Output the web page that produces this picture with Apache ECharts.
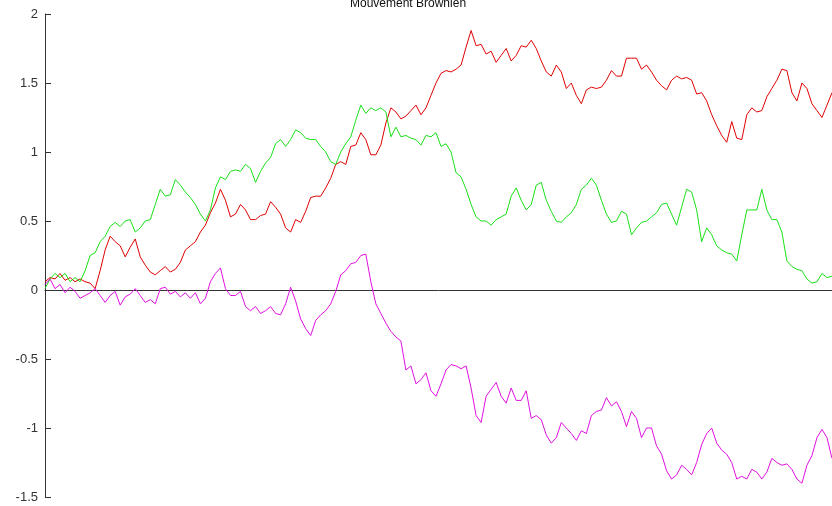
<!DOCTYPE html>
<html>
<head>
<meta charset="utf-8">
<script src="https://cdn.jsdelivr.net/npm/echarts@6/dist/echarts.min.js"></script>
<style>
  html, body { margin: 0; padding: 0; background: #fff; }
  #chart { width: 832px; height: 506px; }
</style>
</head>
<body>
<div id="chart"></div>
<script>
// Three simulated Brownian paths, sampled on a common time grid.
const pathRed = [
  0.06, 0.09, 0.08, 0.12, 0.07, 0.09, 0.06, 0.08, 0.06, 0.05,
  0.01, 0.14, 0.29, 0.39, 0.35, 0.32, 0.24, 0.31, 0.37, 0.24,
  0.18, 0.13, 0.11, 0.14, 0.17, 0.13, 0.15, 0.20, 0.29, 0.32,
  0.35, 0.42, 0.47, 0.56, 0.63, 0.73, 0.65, 0.53, 0.55, 0.62,
  0.58, 0.51, 0.51, 0.54, 0.55, 0.64, 0.60, 0.55, 0.45, 0.42,
  0.51, 0.49, 0.57, 0.67, 0.68, 0.68, 0.74, 0.81, 0.91, 0.93,
  0.91, 1.04, 1.05, 1.14, 1.09, 0.98, 0.98, 1.05, 1.21, 1.32,
  1.29, 1.24, 1.26, 1.30, 1.34, 1.27, 1.32, 1.41, 1.50, 1.57,
  1.59, 1.58, 1.60, 1.63, 1.76, 1.88, 1.77, 1.78, 1.71, 1.73,
  1.65, 1.70, 1.75, 1.66, 1.70, 1.77, 1.76, 1.81, 1.75, 1.66,
  1.58, 1.55, 1.63, 1.58, 1.46, 1.50, 1.41, 1.35, 1.45, 1.47,
  1.46, 1.47, 1.52, 1.59, 1.55, 1.55, 1.68, 1.68, 1.68, 1.60,
  1.63, 1.58, 1.52, 1.48, 1.45, 1.52, 1.55, 1.53, 1.54, 1.52,
  1.42, 1.43, 1.37, 1.27, 1.19, 1.12, 1.07, 1.22, 1.10, 1.09,
  1.27, 1.32, 1.29, 1.30, 1.40, 1.46, 1.52, 1.60, 1.59, 1.43,
  1.37, 1.50, 1.46, 1.35, 1.30, 1.25, 1.34, 1.43
];
const pathGreen = [
  0.01, 0.08, 0.12, 0.09, 0.12, 0.06, 0.09, 0.06, 0.14, 0.25,
  0.27, 0.35, 0.39, 0.46, 0.49, 0.46, 0.50, 0.51, 0.42, 0.45,
  0.50, 0.51, 0.62, 0.73, 0.68, 0.69, 0.80, 0.76, 0.71, 0.67,
  0.62, 0.55, 0.50, 0.58, 0.74, 0.82, 0.80, 0.86, 0.87, 0.86,
  0.91, 0.88, 0.78, 0.86, 0.92, 0.96, 1.06, 1.09, 1.04, 1.09,
  1.16, 1.14, 1.10, 1.09, 1.09, 1.04, 1.00, 0.93, 0.91, 1.00,
  1.06, 1.11, 1.23, 1.34, 1.28, 1.32, 1.30, 1.32, 1.29, 1.11,
  1.18, 1.11, 1.12, 1.10, 1.09, 1.05, 1.12, 1.11, 1.14, 1.04,
  1.06, 1.00, 0.85, 0.82, 0.73, 0.62, 0.53, 0.50, 0.50, 0.47,
  0.51, 0.53, 0.55, 0.68, 0.74, 0.65, 0.58, 0.62, 0.76, 0.78,
  0.65, 0.57, 0.50, 0.49, 0.53, 0.56, 0.62, 0.73, 0.76, 0.81,
  0.76, 0.65, 0.55, 0.49, 0.50, 0.57, 0.55, 0.40, 0.45, 0.49,
  0.50, 0.53, 0.56, 0.62, 0.63, 0.55, 0.47, 0.60, 0.73, 0.71,
  0.58, 0.35, 0.45, 0.40, 0.32, 0.29, 0.27, 0.26, 0.21, 0.40,
  0.58, 0.58, 0.58, 0.73, 0.58, 0.51, 0.51, 0.42, 0.21, 0.17,
  0.15, 0.14, 0.08, 0.05, 0.06, 0.12, 0.09, 0.10
];
const pathMagenta = [
  0.04, 0.08, 0.01, 0.04, -0.02, 0.02, -0.01, -0.06, -0.04, -0.02,
  0.01, -0.04, -0.09, -0.04, -0.01, -0.11, -0.05, -0.03, 0.01, -0.04,
  -0.09, -0.07, -0.10, 0.01, 0.02, -0.03, -0.01, -0.05, -0.02, -0.06,
  -0.02, -0.10, -0.06, 0.06, 0.12, 0.16, 0.01, -0.04, -0.04, -0.01,
  -0.12, -0.15, -0.12, -0.17, -0.15, -0.12, -0.17, -0.18, -0.10, 0.02,
  -0.08, -0.21, -0.28, -0.33, -0.22, -0.18, -0.15, -0.10, -0.01, 0.11,
  0.14, 0.19, 0.20, 0.25, 0.26, 0.06, -0.10, -0.17, -0.24, -0.30,
  -0.34, -0.37, -0.58, -0.55, -0.68, -0.65, -0.60, -0.73, -0.77, -0.68,
  -0.58, -0.54, -0.55, -0.57, -0.55, -0.71, -0.91, -0.96, -0.77, -0.72,
  -0.67, -0.77, -0.82, -0.71, -0.80, -0.80, -0.73, -0.93, -0.91, -0.94,
  -1.05, -1.11, -1.07, -0.96, -1.00, -1.04, -1.09, -1.02, -1.04, -0.91,
  -0.88, -0.87, -0.78, -0.84, -0.81, -0.88, -0.99, -0.88, -0.93, -1.07,
  -1.00, -1.00, -1.13, -1.19, -1.31, -1.37, -1.34, -1.27, -1.30, -1.34,
  -1.25, -1.12, -1.04, -1.00, -1.11, -1.16, -1.19, -1.25, -1.37, -1.35,
  -1.37, -1.30, -1.32, -1.37, -1.32, -1.22, -1.25, -1.27, -1.26, -1.30,
  -1.37, -1.40, -1.27, -1.20, -1.07, -1.01, -1.07, -1.22
];
const yTicks = { min: -1.5, max: 2, step: 0.5 };
const titleText = 'Mouvement Brownien';

const steps = pathRed.map((_, i) => i);

const chart = echarts.init(document.getElementById('chart'), null, { renderer: 'canvas' });

function pathSeries(name, data, color) {
  return {
    name, type: 'line', data,
    showSymbol: false, symbol: 'none',
    lineStyle: { color, width: 1 },
    itemStyle: { color },
    emphasis: { disabled: true },
    animation: false
  };
}

chart.setOption({
  backgroundColor: '#ffffff',
  animation: false,
  title: {
    text: titleText,
    left: 345,
    top: -7,
    textStyle: { fontFamily: 'Liberation Sans', fontSize: 12, fontWeight: 'normal', color: '#111' }
  },
  grid: { left: 45, right: 0, top: 14, bottom: 9, containLabel: false },
  xAxis: {
    type: 'category',
    data: steps,
    boundaryGap: false,
    axisLine: { show: true, onZero: true, lineStyle: { color: '#333', width: 1 } },
    axisTick: { show: false },
    axisLabel: { show: false },
    splitLine: { show: false }
  },
  yAxis: {
    type: 'value',
    min: yTicks.min,
    max: yTicks.max,
    interval: yTicks.step,
    axisLine: { show: true, lineStyle: { color: '#333', width: 1 } },
    axisTick: { show: true, inside: true, length: 6, lineStyle: { color: '#333' } },
    axisLabel: { margin: 7, fontFamily: 'Liberation Sans', fontSize: 13, color: '#333' },
    splitLine: { show: false }
  },
  series: [
    pathSeries('rouge', pathRed, '#e00000'),
    pathSeries('vert', pathGreen, '#18e018'),
    pathSeries('magenta', pathMagenta, '#e010e0')
  ]
});
</script>
</body>
</html>
